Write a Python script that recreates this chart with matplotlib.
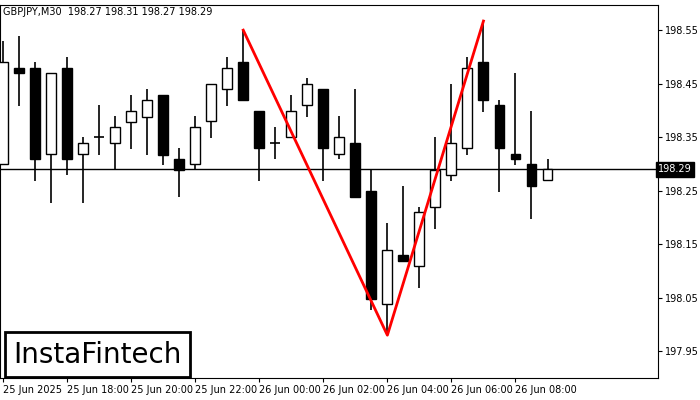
import matplotlib
matplotlib.use("Agg")
import matplotlib.pyplot as plt
from matplotlib.patches import Rectangle

opens  = [198.300,198.479,198.479,198.318,198.479,198.318,198.350,198.339,198.378,198.387,198.429,198.309,198.300,
          198.380,198.440,198.490,198.399,198.339,198.350,198.410,198.440,198.318,198.339,198.249,198.038,198.129,
          198.109,198.219,198.279,198.330,198.490,198.410,198.318,198.300,198.270]
closes = [198.490,198.470,198.309,198.470,198.309,198.339,198.350,198.369,198.399,198.419,198.316,198.288,198.369,
          198.449,198.479,198.419,198.330,198.339,198.399,198.449,198.330,198.350,198.238,198.047,198.139,198.118,
          198.210,198.288,198.339,198.479,198.419,198.330,198.309,198.258,198.290]
highs  = [198.530,198.539,198.490,198.470,198.500,198.350,198.410,198.389,198.429,198.440,198.429,198.330,198.389,
          198.449,198.500,198.550,198.399,198.369,198.429,198.460,198.440,198.389,198.440,198.288,198.189,198.258,
          198.219,198.350,198.449,198.500,198.567,198.419,198.470,198.399,198.309]
lows   = [198.300,198.408,198.268,198.227,198.279,198.227,198.316,198.288,198.328,198.316,198.298,198.238,198.288,
          198.348,198.408,198.419,198.268,198.309,198.350,198.387,198.268,198.309,198.238,198.027,197.980,198.118,
          198.068,198.178,198.268,198.316,198.397,198.247,198.298,198.197,198.270]
pattern_x = [15, 24, 30]
pattern_y = [198.550, 197.980, 198.567]
price_ticks = [198.55, 198.45, 198.35, 198.25, 198.15, 198.05, 197.95]
time_ticks = [0, 4, 8, 12, 16, 20, 24, 28, 32]
time_labels = ["25 Jun 2025", "25 Jun 18:00", "25 Jun 20:00", "25 Jun 22:00", "26 Jun 00:00",
               "26 Jun 02:00", "26 Jun 04:00", "26 Jun 06:00", "26 Jun 08:00"]
last_price = 198.29
title = "GBPJPY,M30  198.27 198.31 198.27 198.29"

fig = plt.figure(figsize=(7, 4), dpi=100)
ax = fig.add_axes([0.0, 0.055, 658/700, 0.9325])
w = 0.62
for i, (o, c, h, l) in enumerate(zip(opens, closes, highs, lows)):
    ax.vlines(i, l, h, color="black", lw=1.2, zorder=2)
    lo, hi = min(o, c), max(o, c)
    fc = "black" if c < o else "white"
    if abs(c - o) < 0.002:
        ax.hlines(o, i - w/2, i + w/2, color="black", lw=1.2, zorder=3)
    else:
        ax.add_patch(Rectangle((i - w/2, lo), w, hi - lo, facecolor=fc, edgecolor="black", lw=1.0, zorder=3))
ax.axhline(last_price, color="black", lw=1.0, zorder=1)
ax.plot(pattern_x, pattern_y, color="red", lw=2, zorder=4)

ax.set_xlim(-0.19, 40.9)
ax.set_ylim(197.900, 198.597)
ax.yaxis.tick_right()
ax.set_yticks(price_ticks)
ax.set_yticklabels([f"{v:.2f}" for v in price_ticks], fontsize=7)
ax.set_xticks(time_ticks)
ax.set_xticklabels(time_labels, fontsize=7, ha="left")
ax.tick_params(length=3, width=0.8, pad=2)
for s in ax.spines.values():
    s.set_linewidth(0.8)
ax.text(1.0, last_price, f"{last_price:.2f}", transform=ax.get_yaxis_transform(), fontsize=7,
        color="white", va="center", ha="left",
        bbox=dict(boxstyle="square,pad=0.25", fc="black", ec="black"))
ax.text(0.005, 0.995, title, transform=ax.transAxes, fontsize=7, va="top", ha="left")
ax.text(0.02, 0.025, "InstaFintech", transform=ax.transAxes, fontsize=20, fontweight="medium",
        va="bottom", ha="left",
        bbox=dict(boxstyle="square,pad=0.3", fc="white", ec="black", lw=2), zorder=6)
fig.savefig("out.png", dpi=100)
